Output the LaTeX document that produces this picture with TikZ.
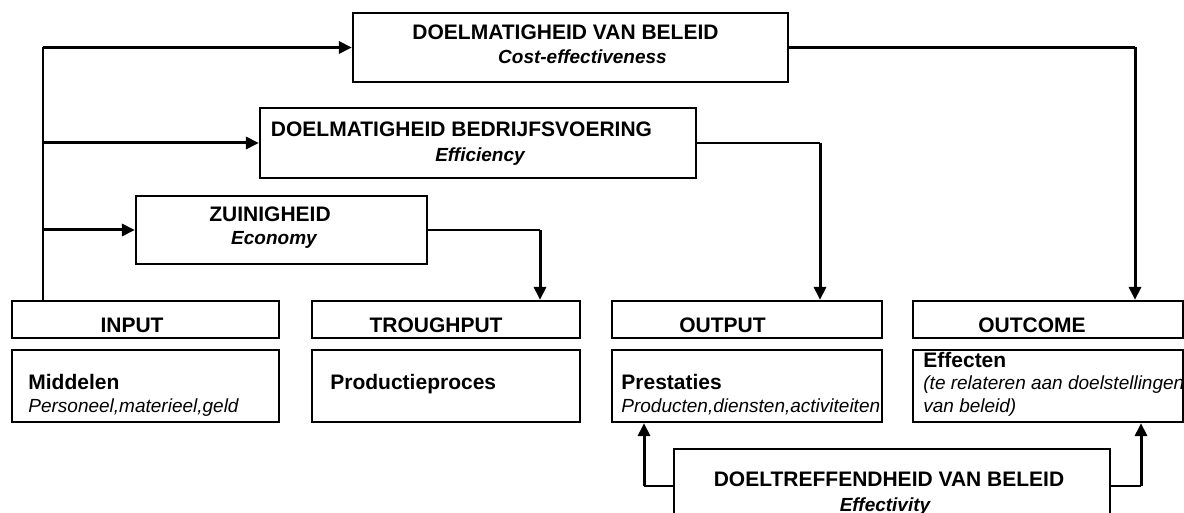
\documentclass[tikz,border=0pt]{standalone}
\usepackage{fontspec}
\setmainfont{Liberation Sans}
\usetikzlibrary{arrows.meta,positioning,calc}

\begin{document}
\begin{tikzpicture}[x=0.5pt, y=-0.5pt,
    box/.style={draw, line width=1.1pt, inner sep=0pt},
    ttl/.style={font=\bfseries\fontsize{10.5}{12}\selectfont, inner sep=0pt, anchor=base},
    sub/.style={font=\bfseries\itshape\fontsize{9.5}{11}\selectfont, inner sep=0pt, anchor=base},
    lbl/.style={font=\bfseries\fontsize{10.5}{12}\selectfont, inner sep=0pt, anchor=base west},
    txt/.style={font=\itshape\fontsize{9.5}{11}\selectfont, inner sep=0pt, anchor=base west},
    arr/.style={-{Triangle[length=6.5pt,width=6pt]}, line width=1.5pt},
    lin/.style={line width=1.1pt}]
  \useasboundingbox (0,0) rectangle (1184,513);

  % Blocchi in alto
  \node[box, minimum width=217.5pt, minimum height=34.5pt] (dvb) at (570.5,47.5) {};
  \node[ttl] (dvbt) at (565.5,40) {DOELMATIGHEID VAN BELEID};
  \node[sub] (dvbs) at (582.5,64) {Cost-effectiveness};

  \node[box, minimum width=218pt, minimum height=35pt] (dbv) at (478,143) {};
  \node[ttl] (dbvt) at (461.5,137) {DOELMATIGHEID BEDRIJFSVOERING};
  \node[sub] (dbvs) at (480,162) {Efficiency};

  \node[box, minimum width=145.5pt, minimum height=34pt] (zuin) at (281.5,230) {};
  \node[ttl] (zuint) at (270,222) {ZUINIGHEID};
  \node[sub] (zuins) at (274,245) {Economy};

  % Intestazioni
  \node[box, minimum width=133.5pt, minimum height=18.5pt] (input) at (145.5,319.5) {};
  \node[box, minimum width=134pt, minimum height=18.5pt] (through) at (446,319.5) {};
  \node[box, minimum width=135pt, minimum height=18.5pt] (output) at (747,319.5) {};
  \node[box, minimum width=135pt, minimum height=18.5pt] (outcome) at (1048,319.5) {};
  \node[ttl] (inputt) at (132,333) {INPUT};
  \node[ttl] (throught) at (436,333) {TROUGHPUT};
  \node[ttl] (outputt) at (722.5,333) {OUTPUT};
  \node[ttl] (outcomet) at (1032,333) {OUTCOME};

  % Contenuto
  \node[box, minimum width=133.5pt, minimum height=36pt] (midd) at (145.5,386) {};
  \node[box, minimum width=134pt, minimum height=36pt] (proc) at (446,386) {};
  \node[box, minimum width=135pt, minimum height=36pt] (prest) at (747,386) {};
  \node[box, minimum width=135pt, minimum height=36pt] (eff) at (1048,386) {};
  \node[lbl] (middt) at (28,390) {Middelen};
  \node[txt] (middx) at (28,413) {Personeel,materieel,geld};
  \node[lbl] (proct) at (330,390) {Productieproces};
  \node[lbl] (prestt) at (621,389) {Prestaties};
  \node[txt] (prestx) at (621,413) {Producten,diensten,activiteiten};
  \node[lbl] (efft) at (923,367) {Effecten};
  \node[txt] (effx) at (923,390) {(te relateren aan doelstellingen};
  \node[txt] (effy) at (923,413) {van beleid)};

  % Blocco in basso
  \node[box, minimum width=218pt, minimum height=48pt] (dtb) at (892,497) {};
  \node[ttl] (dtbt) at (889,486) {DOELTREFFENDHEID VAN BELEID};
  \node[sub] (dtbs) at (885,511) {Effectivity};

  % Frecce a sinistra
  \coordinate (trunk) at (43,47.5);
  \draw[lin] (input.north -| trunk) -- (trunk);
  \draw[arr] (trunk) -- (dvb.west);
  \draw[arr] (trunk |- dbv.west) -- (dbv.west);
  \draw[arr] (trunk |- zuin.west) -- (zuin.west);

  % Frecce a destra
  \coordinate (zr) at (540,230);
  \coordinate (br) at (820,143);
  \coordinate (vr) at (1135,47.5);
  \draw[lin] (zuin.east) -- (zr);
  \draw[arr] (zr) -- (through.north -| zr);
  \draw[lin] (dbv.east) -- (br);
  \draw[arr] (br) -- (output.north -| br);
  \draw[lin] (dvb.east) -- (vr);
  \draw[arr] (vr) -- (outcome.north -| vr);

  % Frecce dal basso
  \coordinate (ql) at (644,486);
  \coordinate (qr) at (1141,486);
  \draw[lin] (dtb.west |- ql) -- (ql);
  \draw[arr] (ql) -- (prest.south -| ql);
  \draw[lin] (dtb.east |- qr) -- (qr);
  \draw[arr] (qr) -- (eff.south -| qr);
\end{tikzpicture}
\end{document}
